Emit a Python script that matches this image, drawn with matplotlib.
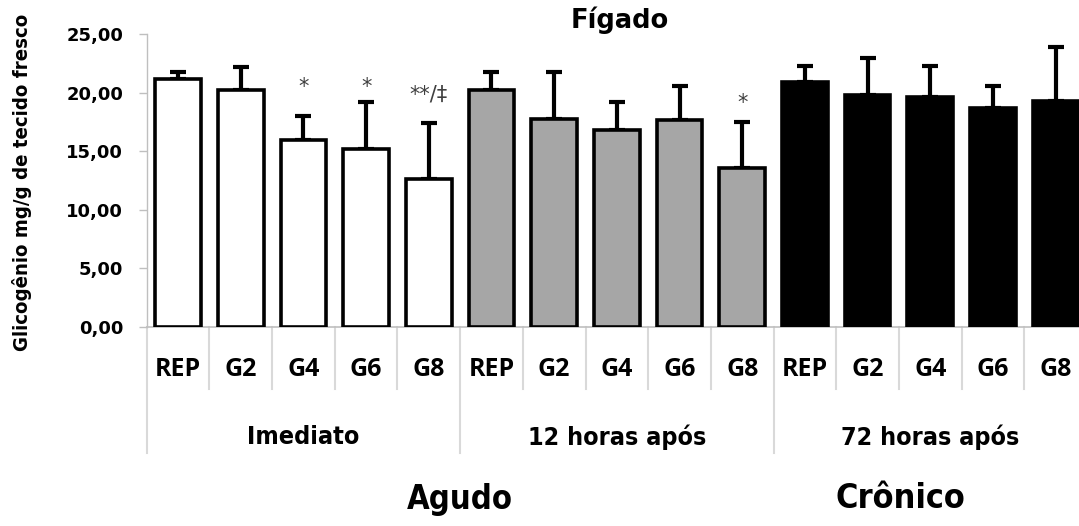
import matplotlib
matplotlib.use("Agg")
import matplotlib.pyplot as plt
import matplotlib.transforms as mtransforms
import numpy as np

groups = ["Imediato", "12 horas após", "72 horas após"]
categories = ["REP", "G2", "G4", "G6", "G8"]
means_imed = [21.2, 20.2, 16.0, 15.2, 12.6]
tops_imed = [21.8, 22.2, 18.0, 19.2, 17.4]
means_12h = [20.2, 17.8, 16.8, 17.7, 13.6]
tops_12h = [21.8, 21.8, 19.2, 20.6, 17.5]
means_72h = [20.9, 19.8, 19.6, 18.7, 19.3]
tops_72h = [22.3, 23.0, 22.3, 20.6, 23.9]
fills = ["#ffffff", "#a6a6a6", "#000000"]
# annotations: (group index, category index, text, y value of baseline)
annotations = [(0, 2, "*", 20.0), (0, 3, "*", 20.0), (0, 4, "**/‡", 19.3), (1, 4, "*", 18.6)]
yticks = [0, 5, 10, 15, 20, 25]
ytick_labels = ["0,00", "5,00", "10,00", "15,00", "20,00", "25,00"]

W, H = 1079, 526
fig = plt.figure(figsize=(W / 100, H / 100), dpi=100)
ax_left, ax_right = 146.7, 1087.0
ax_top, ax_bot = 34.3, 326.7
ax = fig.add_axes([ax_left / W, 1 - ax_bot / H, (ax_right - ax_left) / W, (ax_bot - ax_top) / H])

narrow = ["DejaVu Sans Condensed", "DejaVu Sans"]
sans = ["Open Sans", "DejaVu Sans"]

all_means = [means_imed, means_12h, means_72h]
all_tops = [tops_imed, tops_12h, tops_72h]
ncat = len(categories)
for gi, (m, t) in enumerate(zip(all_means, all_tops)):
    x = np.arange(ncat) + gi * ncat
    err = np.array(t) - np.array(m)
    ax.errorbar(x, m, yerr=[np.zeros(ncat), err], fmt="none", ecolor="black",
                elinewidth=3.0, capsize=5.5, capthick=3.0, zorder=2)
    ax.bar(x, m, width=0.73, color=fills[gi], edgecolor="black", linewidth=2.6, zorder=3)

for gi, ci, txt, yv in annotations:
    ax.text(gi * ncat + ci, yv, txt, ha="center", va="baseline", fontsize=15,
            color="#404040", family=["DejaVu Sans"])

ax.set_xlim(-0.5, 3 * ncat - 0.5)
ax.set_ylim(0, 25)
ax.set_yticks(yticks)
ax.set_yticklabels(ytick_labels, fontsize=13, fontweight="bold", family=["DejaVu Sans"])
ax.tick_params(axis="y", length=6, width=1, color="#bfbfbf", pad=11)
ax.set_xticks([])
for s in ["top", "right"]:
    ax.spines[s].set_visible(False)
ax.spines["left"].set_color("#bfbfbf")
ax.spines["left"].set_linewidth(1)
ax.spines["bottom"].set_color("#bfbfbf")
ax.spines["bottom"].set_linewidth(1.2)

trans = mtransforms.blended_transform_factory(ax.transData, ax.transAxes)
ah = ax_bot - ax_top
short_end = -(389 - ax_bot) / ah
long_end = -(452.7 - ax_bot) / ah
for b in range(3 * ncat + 1):
    xb = b - 0.5
    end = long_end if b % ncat == 0 else short_end
    ax.plot([xb, xb], [0, end], transform=trans, color="#d9d9d9", lw=1.5, clip_on=False, zorder=1)

cat_y = -(370 - ax_bot) / ah
grp_y = -(437 - ax_bot) / ah
big_y = -(499 - ax_bot) / ah
for gi, g in enumerate(groups):
    for ci, c in enumerate(categories):
        ax.text(gi * ncat + ci, cat_y, c, transform=trans, ha="center", va="center",
                fontsize=18, fontweight="bold", family=sans)
    ax.text(gi * ncat + (ncat - 1) / 2, grp_y, g, transform=trans, ha="center", va="center",
            fontsize=18, fontweight="bold", family=narrow, fontstretch="condensed")

ax.text(4.5, big_y, "Agudo", transform=trans, ha="center", va="center",
        fontsize=23.5, fontweight="bold", family=narrow, fontstretch="condensed")
ax.text(11.53, big_y, "Crônico", transform=trans, ha="center", va="center",
        fontsize=24.5, fontweight="bold", family=narrow, fontstretch="condensed")

fig.text(620 / W, 1 - 20 / H, "Fígado", ha="center", va="center", fontsize=18.5,
         fontweight="bold", family=["DejaVu Sans"])
fig.text(22 / W, 1 - 182 / H, "Glicogênio mg/g de tecido fresco", ha="center", va="center",
         rotation=90, fontsize=14.6, fontweight="bold", family=narrow, fontstretch="condensed")

fig.savefig("out.png", dpi=100, facecolor="white")
